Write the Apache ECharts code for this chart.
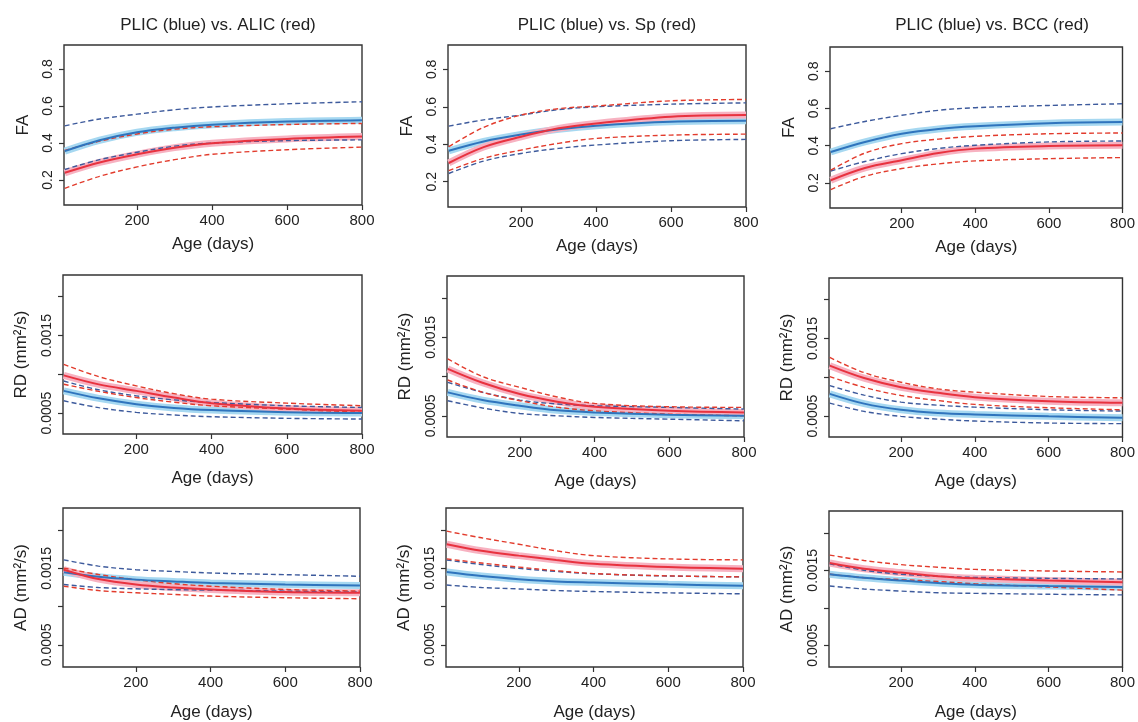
<!DOCTYPE html>
<html><head><meta charset="utf-8">
<script src="https://cdn.jsdelivr.net/npm/echarts@6/dist/echarts.min.js"></script>
<style>html,body{margin:0;padding:0;background:#fff}#c{width:1138px;height:722px}</style>
</head><body><div id="c"></div>
<script>
// Age (days) at which the curves are read
const ages = [7, 100, 200, 300, 400, 600, 800];
const xTicks = [200, 400, 600, 800];
const faTicks = [0.2, 0.4, 0.6, 0.8];
const dTicks = [0.0005, 0.001, 0.0015, 0.002];
const dLabels = [0.0005, 0.0015];
const colTitles = ["PLIC (blue) vs. ALIC (red)", "PLIC (blue) vs. Sp (red)", "PLIC (blue) vs. BCC (red)"];
const rowNames = ["FA", "RD (mm²/s)", "AD (mm²/s)"];

// FA, ALIC
const faAlicBlueMean = [0.356, 0.415, 0.458, 0.483, 0.499, 0.516, 0.523];
const faAlicBlueHi   = [0.493, 0.530, 0.556, 0.580, 0.595, 0.612, 0.623];
const faAlicBlueLo   = [0.257, 0.310, 0.350, 0.383, 0.400, 0.413, 0.417];
const faAlicRedMean  = [0.239, 0.295, 0.339, 0.375, 0.399, 0.422, 0.435];
const faAlicRedHi    = [0.360, 0.410, 0.449, 0.475, 0.488, 0.500, 0.506];
const faAlicRedLo    = [0.155, 0.220, 0.271, 0.310, 0.339, 0.364, 0.378];
// FA, Sp
const faSpBlueMean = [0.365, 0.415, 0.452, 0.480, 0.499, 0.520, 0.525];
const faSpBlueHi   = [0.497, 0.530, 0.556, 0.585, 0.600, 0.614, 0.621];
const faSpBlueLo   = [0.244, 0.310, 0.351, 0.378, 0.396, 0.419, 0.426];
const faSpRedMean  = [0.300, 0.385, 0.440, 0.485, 0.511, 0.547, 0.556];
const faSpRedHi    = [0.387, 0.490, 0.556, 0.590, 0.604, 0.632, 0.639];
const faSpRedLo    = [0.259, 0.325, 0.369, 0.405, 0.431, 0.449, 0.454];
// FA, BCC
const faBccBlueMean = [0.366, 0.420, 0.464, 0.490, 0.504, 0.521, 0.527];
const faBccBlueHi   = [0.491, 0.530, 0.563, 0.590, 0.604, 0.616, 0.625];
const faBccBlueLo   = [0.264, 0.315, 0.357, 0.385, 0.402, 0.420, 0.425];
const faBccRedMean  = [0.214, 0.280, 0.321, 0.360, 0.384, 0.398, 0.402];
const faBccRedHi    = [0.268, 0.360, 0.411, 0.435, 0.450, 0.464, 0.468];
const faBccRedLo    = [0.164, 0.235, 0.277, 0.302, 0.318, 0.330, 0.336];
// RD, ALIC
const rdAlicBlueMean = [0.000786, 0.000690, 0.000615, 0.000565, 0.000538, 0.000509, 0.000500];
const rdAlicBlueHi   = [0.000913, 0.000800, 0.000722, 0.000670, 0.000636, 0.000594, 0.000572];
const rdAlicBlueLo   = [0.000658, 0.000570, 0.000509, 0.000475, 0.000453, 0.000432, 0.000423];
const rdAlicRedMean  = [0.000986, 0.000870, 0.000786, 0.000700, 0.000628, 0.000560, 0.000530];
const rdAlicRedHi    = [0.001127, 0.000970, 0.000850, 0.000750, 0.000679, 0.000628, 0.000594];
const rdAlicRedLo    = [0.000871, 0.000780, 0.000700, 0.000640, 0.000594, 0.000551, 0.000509];
// RD, Sp
const rdSpBlueMean = [0.000798, 0.000700, 0.000628, 0.000570, 0.000543, 0.000513, 0.000500];
const rdSpBlueHi   = [0.000926, 0.000800, 0.000700, 0.000650, 0.000628, 0.000607, 0.000585];
const rdSpBlueLo   = [0.000692, 0.000600, 0.000530, 0.000500, 0.000479, 0.000457, 0.000436];
const rdSpRedMean  = [0.001097, 0.000920, 0.000777, 0.000680, 0.000615, 0.000564, 0.000543];
const rdSpRedHi    = [0.001225, 0.001000, 0.000862, 0.000740, 0.000658, 0.000615, 0.000607];
const rdSpRedLo    = [0.000956, 0.000800, 0.000692, 0.000610, 0.000564, 0.000521, 0.000500];
// RD, BCC
const rdBccBlueMean = [0.000786, 0.000660, 0.000581, 0.000540, 0.000521, 0.000496, 0.000479];
const rdBccBlueHi   = [0.000893, 0.000770, 0.000680, 0.000640, 0.000615, 0.000581, 0.000564];
const rdBccBlueLo   = [0.000667, 0.000560, 0.000496, 0.000460, 0.000436, 0.000410, 0.000402];
const rdBccRedMean  = [0.001150, 0.000990, 0.000872, 0.000800, 0.000744, 0.000692, 0.000671];
const rdBccRedHi    = [0.001256, 0.001060, 0.000936, 0.000850, 0.000808, 0.000752, 0.000735];
const rdBccRedLo    = [0.001009, 0.000870, 0.000765, 0.000700, 0.000650, 0.000607, 0.000581];
// AD, ALIC
const adAlicBlueMean = [0.001448, 0.001390, 0.001353, 0.001330, 0.001310, 0.001289, 0.001276];
const adAlicBlueHi   = [0.001612, 0.001530, 0.001483, 0.001460, 0.001440, 0.001418, 0.001397];
const adAlicBlueLo   = [0.001289, 0.001250, 0.001233, 0.001222, 0.001216, 0.001203, 0.001190];
const adAlicRedMean  = [0.001483, 0.001360, 0.001289, 0.001250, 0.001224, 0.001190, 0.001181];
const adAlicRedHi    = [0.001504, 0.001420, 0.001353, 0.001300, 0.001267, 0.001224, 0.001203];
const adAlicRedLo    = [0.001267, 0.001210, 0.001181, 0.001160, 0.001138, 0.001116, 0.001103];
// AD, Sp
const adSpBlueMean = [0.001453, 0.001400, 0.001359, 0.001330, 0.001316, 0.001291, 0.001274];
const adSpBlueHi   = [0.001610, 0.001550, 0.001500, 0.001460, 0.001430, 0.001400, 0.001390];
const adSpBlueLo   = [0.001282, 0.001250, 0.001231, 0.001210, 0.001197, 0.001180, 0.001167];
const adSpRedMean  = [0.001816, 0.001730, 0.001667, 0.001610, 0.001560, 0.001517, 0.001496];
const adSpRedHi    = [0.001987, 0.001900, 0.001816, 0.001730, 0.001667, 0.001624, 0.001611];
const adSpRedLo    = [0.001624, 0.001570, 0.001517, 0.001470, 0.001432, 0.001402, 0.001389];
// AD, BCC
const adBccBlueMean = [0.001447, 0.001400, 0.001362, 0.001330, 0.001307, 0.001290, 0.001277];
const adBccBlueHi   = [0.001587, 0.001500, 0.001447, 0.001420, 0.001405, 0.001392, 0.001384];
const adBccBlueLo   = [0.001290, 0.001250, 0.001222, 0.001200, 0.001192, 0.001180, 0.001171];
const adBccRedMean  = [0.001596, 0.001520, 0.001469, 0.001420, 0.001392, 0.001362, 0.001341];
const adBccRedHi    = [0.001702, 0.001630, 0.001575, 0.001540, 0.001511, 0.001490, 0.001477];
const adBccRedLo    = [0.001447, 0.001400, 0.001375, 0.001350, 0.001320, 0.001277, 0.001235];

const panels = [
  [faAlicBlueMean, faAlicBlueHi, faAlicBlueLo, faAlicRedMean, faAlicRedHi, faAlicRedLo],
  [faSpBlueMean, faSpBlueHi, faSpBlueLo, faSpRedMean, faSpRedHi, faSpRedLo],
  [faBccBlueMean, faBccBlueHi, faBccBlueLo, faBccRedMean, faBccRedHi, faBccRedLo],
  [rdAlicBlueMean, rdAlicBlueHi, rdAlicBlueLo, rdAlicRedMean, rdAlicRedHi, rdAlicRedLo],
  [rdSpBlueMean, rdSpBlueHi, rdSpBlueLo, rdSpRedMean, rdSpRedHi, rdSpRedLo],
  [rdBccBlueMean, rdBccBlueHi, rdBccBlueLo, rdBccRedMean, rdBccRedHi, rdBccRedLo],
  [adAlicBlueMean, adAlicBlueHi, adAlicBlueLo, adAlicRedMean, adAlicRedHi, adAlicRedLo],
  [adSpBlueMean, adSpBlueHi, adSpBlueLo, adSpRedMean, adSpRedHi, adSpRedLo],
  [adBccBlueMean, adBccBlueHi, adBccBlueLo, adBccRedMean, adBccRedHi, adBccRedLo]
];

const gridBoxes = [
  [64, 45, 298, 160], [448, 45, 298, 162], [830, 47, 298, 161],
  [63, 275, 299, 159], [447, 276, 297, 161], [829, 278, 299, 159],
  [63, 508, 297, 160], [446, 508, 297, 162], [829, 511, 298, 160]
];
const yRanges = [[0.065, 0.93], [0.00023, 0.00228], [0.00021, 0.00229]];
const titleX = [213, 602, 987];
const xNameGap = [31, 36, 37];
const yNameGap = [32, 33, 33];

const FONT = '"Liberation Sans", Arial, sans-serif';
const C = {
  blueLine: '#2f74bd', blueBand: '#a6d8f1', blueDash: '#3d5a9c',
  redLine: '#e8323f', redBand: '#f7b2c1', redDash: '#e23b2c', ink: '#222'
};

const grid = [], xAxis = [], yAxis = [], series = [], title = [];
colTitles.forEach((t, i) => title.push({
  text: t, left: titleX[i], top: 12, textAlign: 'center',
  textStyle: {fontFamily: FONT, fontSize: 17, fontWeight: 'normal', color: C.ink}
}));

panels.forEach((p, k) => {
  const row = Math.floor(k / 3);
  const b = gridBoxes[k];
  grid.push({left: b[0], top: b[1], width: b[2], height: b[3], show: true,
    borderColor: '#333', borderWidth: 1.4, backgroundColor: 'transparent'});
  xAxis.push({type: 'value', gridIndex: k, min: 5, max: 800,
    name: 'Age (days)', nameLocation: 'middle', nameGap: xNameGap[row],
    nameTextStyle: {fontFamily: FONT, fontSize: 17, color: C.ink},
    axisLine: {show: false}, splitLine: {show: false},
    axisTick: {show: true, inside: false, length: 5, customValues: xTicks, lineStyle: {color: '#333', width: 1.2}},
    axisLabel: {customValues: xTicks, margin: 8, fontFamily: FONT, fontSize: 15, color: C.ink}
  });
  const yr = yRanges[row];
  const ticks = row === 0 ? faTicks : dTicks;
  const labs = row === 0 ? faTicks : dLabels;
  yAxis.push({type: 'value', gridIndex: k, min: yr[0], max: yr[1],
    name: rowNames[row], nameLocation: 'middle', nameGap: yNameGap[row], nameRotate: 90,
    nameTextStyle: {fontFamily: FONT, fontSize: 17, color: C.ink},
    axisLine: {show: false}, splitLine: {show: false},
    axisTick: {show: true, inside: false, length: 5, customValues: ticks, lineStyle: {color: '#333', width: 1.2}},
    axisLabel: {customValues: labs, rotate: 90, margin: 9, fontFamily: FONT, fontSize: 14, color: C.ink,
      formatter: v => row === 0 ? v.toFixed(1) : v.toFixed(4)}
  });
  const mk = (vals, color, width, dash, z) => ({
    type: 'line', xAxisIndex: k, yAxisIndex: k, data: ages.map((a, i) => [a, vals[i]]),
    smooth: 0.35, showSymbol: false, silent: true, z: z,
    lineStyle: {color: color, width: width, type: dash ? [5, 3] : 'solid', cap: 'butt'}
  });
  series.push(mk(p[0], C.blueBand, 7, false, 1));
  series.push(mk(p[3], C.redBand, 7, false, 1));
  series.push(mk(p[1], C.blueDash, 1.4, true, 2));
  series.push(mk(p[2], C.blueDash, 1.4, true, 2));
  series.push(mk(p[4], C.redDash, 1.4, true, 2));
  series.push(mk(p[5], C.redDash, 1.4, true, 2));
  series.push(mk(p[0], C.blueLine, 2, false, 3));
  series.push(mk(p[3], C.redLine, 2, false, 3));
});

const chart = echarts.init(document.getElementById('c'), null, {renderer: 'canvas'});
chart.setOption({animation: false, backgroundColor: '#fff', title, grid, xAxis, yAxis, series});
</script></body></html>
